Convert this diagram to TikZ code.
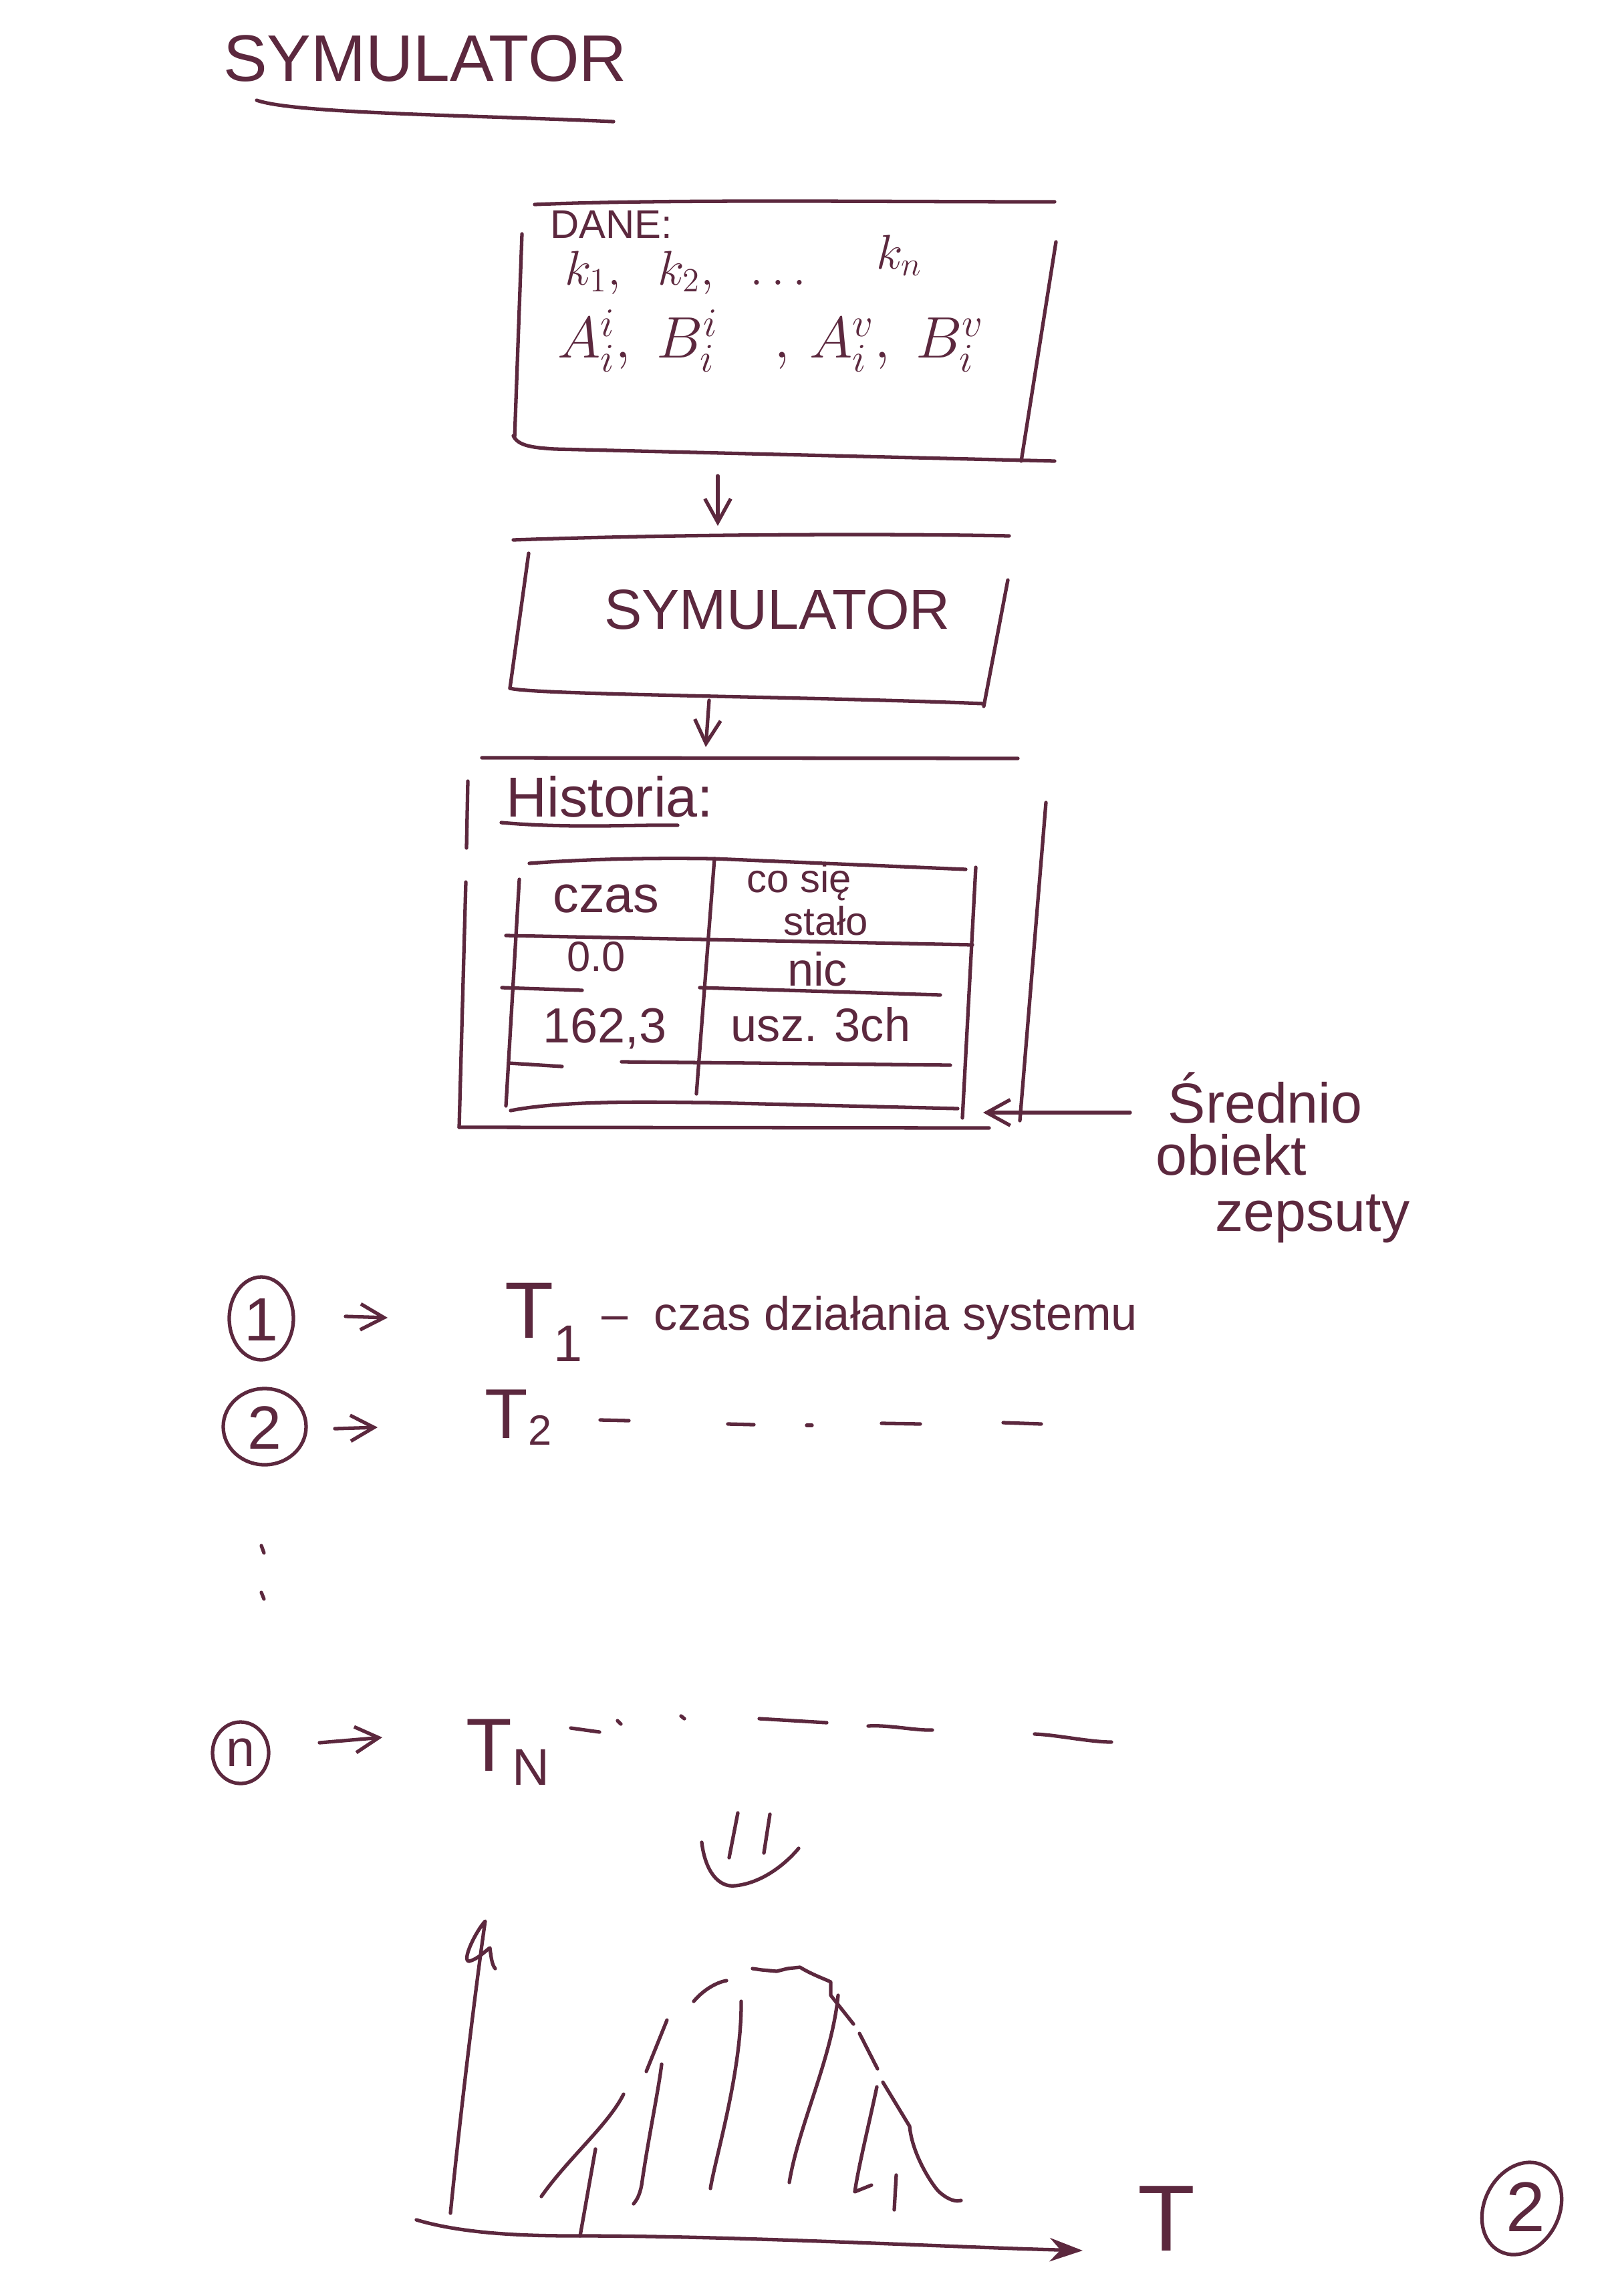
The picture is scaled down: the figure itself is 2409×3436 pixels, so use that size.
\documentclass[tikz,border=0pt]{standalone}
\usepackage{fontspec}
\setmainfont{Liberation Sans}
\usetikzlibrary{arrows.meta}
\definecolor{ink}{RGB}{92,40,62}
\newcommand{\hfs}[1]{\fontsize{#1}{#1}\selectfont}
\begin{document}
\begin{tikzpicture}[x=0.01cm,y=-0.01cm,
  pen/.style={draw=ink,line width=1.5pt,line cap=round,line join=round},
  arr/.style={pen,-{Straight Barb[length=10pt,width=11pt]}},
  hand/.style={text=ink,inner sep=0pt},
]
\useasboundingbox[fill=white] (0,0) rectangle (2409,3436);

% title
\node[hand,font=\hfs{28}] (title) at (636,88) {SYMULATOR};
\draw[pen] (384,150) .. controls (440,170) and (700,172) .. (918,182);

% DANE box
\draw[pen] (800,306) .. controls (1000,298) and (1300,302) .. (1578,302);
\draw[pen] (781,350) -- (770,655);
\draw[pen] (768,652) .. controls (775,668) and (800,670) .. (830,672) -- (1578,690);
\draw[pen] (1580,362) -- (1528,690);
\node[hand,anchor=west,font=\hfs{17}] (dane) at (823,336) {DANE:};
\node[hand,anchor=base west,font=\hfs{22}] (ks) at (845,426) {$k_1,\ \ k_2,\ \ \ldots$};
\node[hand,anchor=base west,font=\hfs{22}] (kn) at (1311,402) {$k_n$};
\node[hand,anchor=base west,font=\hfs{24}] (ab) at (834,535) {$A_i^{i},\ B_i^{i}\quad ,\,A_i^{v},\ B_i^{v}$};

\coordinate (daneS) at (1074,712);
\coordinate (symN) at (1074,787);
\draw[arr] (daneS) -- (symN);

% SYMULATOR box
\draw[pen] (768,808) .. controls (1000,800) and (1300,798) .. (1510,802);
\draw[pen] (791,828) -- (763,1030);
\draw[pen] (763,1030) .. controls (800,1040) and (1200,1042) .. (1472,1053);
\draw[pen] (1508,868) -- (1472,1057);
\node[hand,font=\hfs{24}] (sym) at (1163,912) {SYMULATOR};
\coordinate (symS) at (1061,1048);
\coordinate (histN) at (1056,1118);
\draw[arr] (symS) -- (histN);

% Historia box
\draw[pen] (721,1134) -- (1523,1135);
\draw[pen] (700,1169) -- (698,1269);
\draw[pen] (697,1320) -- (687,1687);
\draw[pen] (687,1687) -- (1480,1688);
\draw[pen] (1565,1201) -- (1526,1677);
\node[hand,anchor=west,font=\hfs{24}] (hist) at (757,1192) {Historia:};
\draw[pen] (750,1231) .. controls (850,1240) and (950,1234) .. (1014,1235);

% table
\draw[pen] (792,1292) .. controls (900,1284) and (1000,1284) .. (1068,1285) -- (1445,1301);
\draw[pen] (777,1316) -- (757,1655);
\draw[pen] (1460,1298) -- (1440,1673);
\draw[pen] (1069,1285) -- (1042,1637);
\draw[pen] (757,1400) -- (1455,1414);
\draw[pen] (751,1478) -- (871,1482);
\draw[pen] (1047,1478) -- (1407,1489);
\draw[pen] (762,1591) -- (841,1596);
\draw[pen] (930,1589) -- (1422,1594);
\draw[pen] (764,1662) .. controls (850,1645) and (1000,1650) .. (1058,1650) -- (1433,1659);

\node[hand,font=\hfs{22}] (czas) at (907,1345) {czas};
\node[hand,font=\hfs{17}] (cosie) at (1196,1320) {co się};
\node[hand,font=\hfs{17}] (stalo) at (1236,1378) {stało};
\node[hand,font=\hfs{18}] (zero) at (892,1432) {0.0};
\node[hand,font=\hfs{20}] (nic) at (1223,1450) {nic};
\node[hand,font=\hfs{21}] (val) at (905,1539) {162,3};
\node[hand,font=\hfs{20}] (usz) at (1228,1533) {usz. 3ch};

% label arrow
\coordinate (lblStart) at (1691,1665);
\coordinate (histCorner) at (1471,1665);
\draw[arr] (lblStart) -- (histCorner);
\node[hand,anchor=base west,font=\hfs{24}] (l1) at (1747,1680) {Średnio};
\node[hand,anchor=base west,font=\hfs{24}] (l2) at (1729,1758) {obiekt};
\node[hand,anchor=base west,font=\hfs{24}] (l3) at (1818,1842) {zepsuty};

% list row 1
\draw[pen] (391,1973) ellipse [x radius=48, y radius=62];
\node[hand,font=\hfs{26}] (n1) at (391,1975) {1};
\coordinate (a1s) at (517,1970); \coordinate (a1e) at (580,1972);
\draw[arr] (a1s) -- (a1e);
\node[hand,anchor=base west,font=\hfs{34}] (T1) at (755,2002) {T\raisebox{-10pt}{\hfs{22}1}};
\node[hand,anchor=base west,font=\hfs{20}] (t1txt) at (900,1990) {–\ \ czas działania systemu};

% list row 2
\draw[pen] (396,2135) ellipse [x radius=62, y radius=57];
\node[hand,font=\hfs{26}] (n2) at (396,2137) {2};
\coordinate (a2s) at (501,2138); \coordinate (a2e) at (565,2136);
\draw[arr] (a2s) -- (a2e);
\node[hand,anchor=base west,font=\hfs{30}] (T2) at (725,2152) {T\raisebox{-3pt}{\hfs{18}2}};
\draw[pen] (898,2125) -- (941,2126);
\draw[pen] (1089,2131) -- (1128,2132);
\draw[pen] (1207,2133) -- (1215,2133);
\draw[pen] (1319,2130) -- (1377,2131);
\draw[pen] (1501,2129) -- (1558,2131);

% vertical dots
\draw[pen] (391,2313) -- (395,2324);
\draw[pen] (391,2383) -- (395,2393);

% list row n
\draw[pen] (360,2623) ellipse [x radius=42, y radius=46];
\node[hand,font=\hfs{22}] (nn) at (360,2623) {n};
\coordinate (ans) at (478,2608); \coordinate (ane) at (572,2600);
\draw[arr] (ans) -- (ane);
\node[hand,anchor=base west,font=\hfs{32}] (TN) at (697,2650) {T\raisebox{-6pt}{\hfs{22}N}};
\draw[pen] (854,2586) -- (897,2592);
\draw[pen] (924,2575) -- (929,2580);
\draw[pen] (1019,2568) -- (1024,2572);
\draw[pen] (1136,2572) -- (1237,2578);
\draw[pen] (1299,2583) .. controls (1330,2581) and (1370,2590) .. (1395,2589);
\draw[pen] (1548,2595) .. controls (1580,2596) and (1630,2607) .. (1663,2607);

% implication sign
\draw[pen] (1104,2713) -- (1091,2780);
\draw[pen] (1152,2715) -- (1143,2773);
\draw[pen] (1050,2757) .. controls (1055,2800) and (1075,2825) .. (1100,2822) .. controls (1140,2818) and (1175,2790) .. (1195,2766);

% graph axes
\draw[pen] (674,3312) .. controls (690,3150) and (715,2950) .. (726,2875) .. controls (712,2890) and (690,2935) .. (702,2935) .. controls (715,2932) and (728,2918) .. (733,2915) .. controls (735,2930) and (736,2940) .. (741,2946);
\coordinate (xo) at (623,3322);
\coordinate (xe) at (1620,3368);
\draw[pen,-{Stealth[length=14pt,width=10pt]}] (xo) .. controls (700,3345) and (800,3346) .. (868,3346) .. controls (1100,3346) and (1400,3362) .. (xe);
\draw[pen] (868,3346) -- (891,3216);
\node[hand,font=\hfs{40}] (Tlab) at (1745,3320) {T};

% bell outline
\draw[pen] (810,3287) .. controls (850,3230) and (910,3180) .. (933,3134);
\draw[pen] (967,3100) -- (998,3023);
\draw[pen] (1038,2995) .. controls (1055,2975) and (1075,2966) .. (1087,2964);
\draw[pen] (1126,2946) -- (1140,2948) -- (1162,2950) -- (1178,2946) -- (1197,2944) .. controls (1215,2955) and (1235,2962) .. (1243,2966) -- (1243,2986) -- (1277,3029);
\draw[pen] (1286,3043) -- (1313,3096);
\draw[pen] (1321,3116) -- (1361,3182) .. controls (1365,3225) and (1395,3270) .. (1405,3280) .. controls (1420,3293) and (1430,3295) .. (1438,3293);

% hatching
\draw[pen] (948,3298) .. controls (955,3290) and (958,3280) .. (960,3270) .. controls (970,3200) and (985,3130) .. (990,3089);
\draw[pen] (1109,2995) .. controls (1110,3100) and (1070,3230) .. (1063,3275);
\draw[pen] (1254,2986) .. controls (1245,3080) and (1195,3180) .. (1181,3266);
\draw[pen] (1312,3123) .. controls (1300,3180) and (1285,3240) .. (1279,3280) -- (1304,3270);
\draw[pen] (1341,3255) -- (1338,3307);

% page number
\draw[pen,rotate around={63:(2277,3305)}] (2277,3305) ellipse [x radius=72, y radius=56];
\node[hand,font=\hfs{30}] (pg) at (2283,3303) {2};
\end{tikzpicture}
\end{document}
